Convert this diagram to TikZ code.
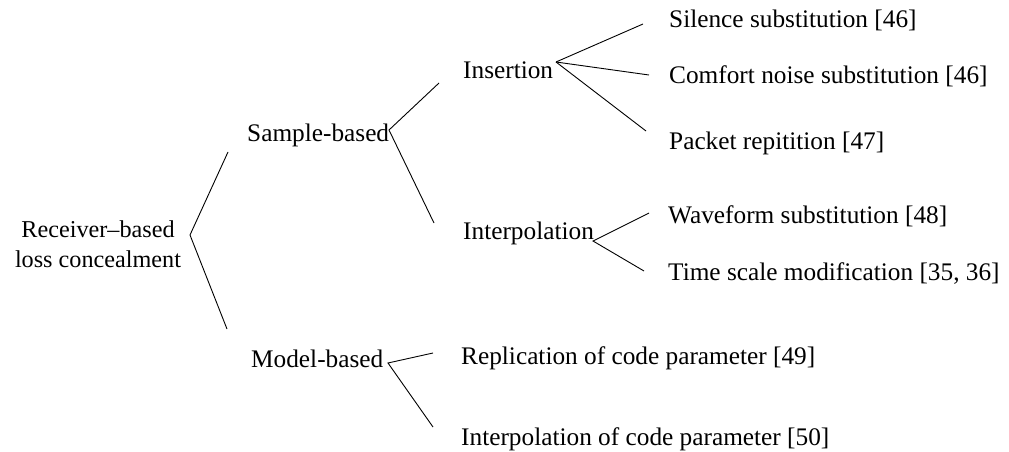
\documentclass[tikz,border=0pt]{standalone}
\usepackage{fontspec}
\setmainfont{Liberation Serif}
\begin{document}
\begin{tikzpicture}[x=1pt,y=-1pt,
  lbl/.style={anchor=base west, inner sep=0pt, font=\fontsize{25.3}{30}\selectfont},
  rootlbl/.style={align=center, inner sep=0pt, font=\fontsize{24.2}{30}\selectfont},
  edge/.style={draw=black, line width=0.9pt}]
\useasboundingbox (0,0) rectangle (1009,452);

% labels
\node[rootlbl] (root) at (98,244) {Receiver--based\\loss concealment};
\node[lbl] (sample) at (247,141) {Sample-based};
\node[lbl] (model)  at (251,367) {Model-based};
\node[lbl] (ins)    at (463,78)  {Insertion};
\node[lbl] (interp) at (463,239) {Interpolation};
\node[lbl] (sil)    at (669,28)  {Silence substitution [46]};
\node[lbl] (cns)    at (669,84)  {Comfort noise substitution [46]};
\node[lbl] (pkt)    at (669,149) {Packet repitition [47]};
\node[lbl] (wav)    at (668,223) {Waveform substitution [48]};
\node[lbl] (tsm)    at (668,280) {Time scale modification [35, 36]};
\node[lbl] (rep)    at (461,364) {Replication of code parameter [49]};
\node[lbl] (icp)    at (461,445) {Interpolation of code parameter [50]};

% branch points and free ends of the connectors
\coordinate (rootV) at (190,235);
\coordinate (sampleIn) at (228,152);
\coordinate (modelIn) at (227,329);
\coordinate (sampleV) at (389,130);
\coordinate (insIn) at (439,83);
\coordinate (interpIn) at (434,223);
\coordinate (insV) at (556,62);
\coordinate (silIn) at (643,24);
\coordinate (cnsIn) at (649,75);
\coordinate (pktIn) at (646,131);
\coordinate (interpV) at (593,241);
\coordinate (wavIn) at (649,213);
\coordinate (tsmIn) at (644,271);
\coordinate (modelV) at (388,363);
\coordinate (repIn) at (433,353);
\coordinate (icpIn) at (433,427);

% connectors
\draw[edge] (sampleIn) -- (rootV) -- (modelIn);
\draw[edge] (insIn) -- (sampleV) -- (interpIn);
\draw[edge] (insV) -- (silIn);
\draw[edge] (insV) -- (cnsIn);
\draw[edge] (insV) -- (pktIn);
\draw[edge] (wavIn) -- (interpV) -- (tsmIn);
\draw[edge] (repIn) -- (modelV) -- (icpIn);
\end{tikzpicture}
\end{document}
